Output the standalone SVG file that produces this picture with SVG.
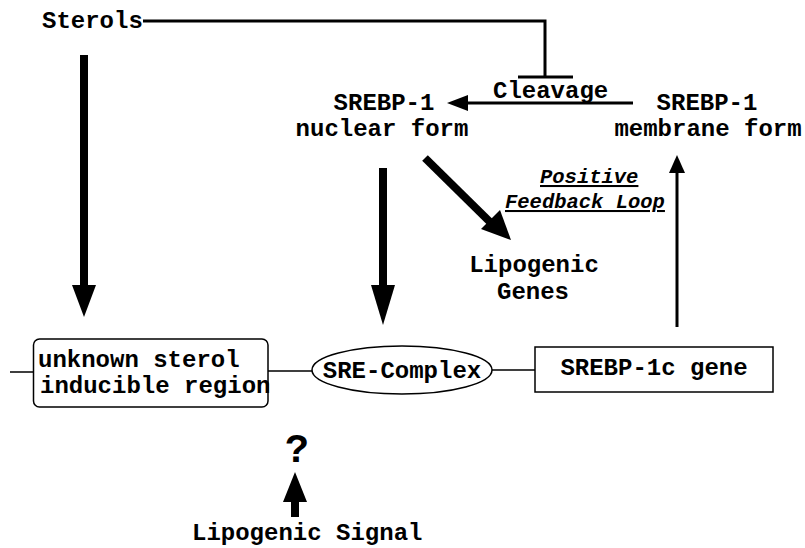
<svg xmlns="http://www.w3.org/2000/svg" width="805" height="548" viewBox="0 0 805 548">
<style>
text{font-family:"Liberation Mono","Courier New",monospace;font-weight:bold;font-size:24px;fill:#000}
.it{font-style:italic;font-size:20.5px;text-decoration:underline}
.ln{stroke:#000;stroke-width:3;fill:none}
.thin{stroke:#000;stroke-width:1.5;fill:none}
.thick{stroke:#000;stroke-width:8;fill:none}
.head{fill:#000}
</style>
<rect width="805" height="548" fill="#fff"/>
<g id="sterols"><text x="42" y="28">Sterols</text></g>
<g id="cleavage"><text x="493" y="98">Cleavage</text></g>
<g id="srebp1-nuclear"><text x="384" y="110" text-anchor="middle">SREBP-1</text><text x="382" y="136" text-anchor="middle">nuclear form</text></g>
<g id="srebp1-membrane"><text x="707" y="110" text-anchor="middle">SREBP-1</text><text x="708" y="136" text-anchor="middle">membrane form</text></g>
<g id="feedback"><text class="it" x="540" y="183">Positive</text><text class="it" x="505" y="208">Feedback Loop</text></g>
<g id="lipogenic-genes"><text x="534" y="272" text-anchor="middle">Lipogenic</text><text x="533" y="299" text-anchor="middle">Genes</text></g>
<g id="unknown-region"><rect x="33.5" y="339" width="234.5" height="68" rx="6" class="thin"/><text x="38" y="367">unknown sterol</text><text x="40" y="393">inducible region</text></g>
<g id="sre-complex"><ellipse cx="402" cy="370" rx="90" ry="24" class="thin"/><text x="402" y="378" text-anchor="middle">SRE-Complex</text></g>
<g id="srebp1c-gene"><rect x="535" y="347" width="238" height="45" class="thin"/><text x="654" y="375" text-anchor="middle">SREBP-1c gene</text></g>
<g id="question"><text x="297" y="462" text-anchor="middle" style="font-size:40px">?</text></g>
<g id="lipogenic-signal"><text x="192" y="540">Lipogenic Signal</text></g>
<g id="connectors">
<path class="ln" d="M143 21H545V77"/>
<path class="ln" d="M518 77H573"/>
<path class="ln" d="M633 103H465"/>
<polygon class="head" points="447,103 468,95 468,111"/>
<path class="thick" d="M84 55V288"/>
<polygon class="head" points="84,317 72,285 96,285"/>
<path class="thick" d="M383 168V288"/>
<polygon class="head" points="383,325 371,285 395,285"/>
<path class="thick" d="M425 158L490 222"/>
<polygon class="head" points="511,240 481,229 500,210"/>
<path class="ln" d="M677 327V170"/>
<polygon class="head" points="677,155 669,173 685,173"/>
<path class="thick" d="M295 517V498"/>
<polygon class="head" points="295,472 283,502 307,502"/>
<path class="thin" d="M10 372H33.5M268 371H312M492 370H535"/>
</g>
</svg>
